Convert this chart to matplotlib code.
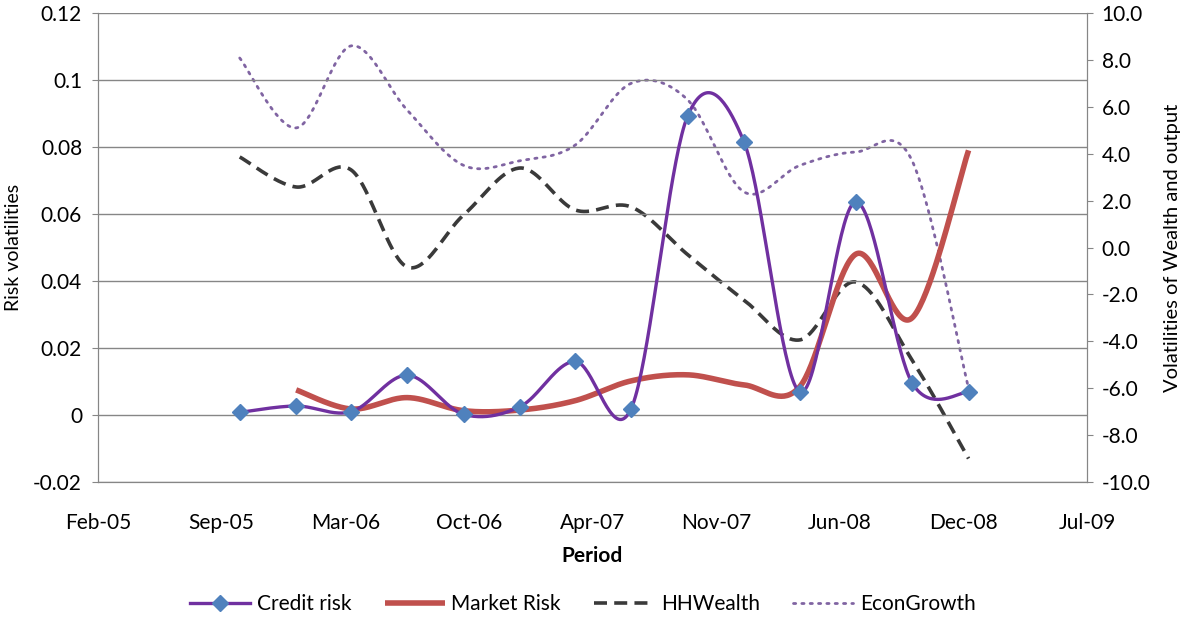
import numpy as np
import matplotlib
matplotlib.use("Agg")
import matplotlib.pyplot as plt
import matplotlib.dates as mdates
from matplotlib.ticker import FixedLocator, FuncFormatter
from matplotlib.lines import Line2D

# ---------------- data ----------------
dates = ["2005-09-30", "2005-12-31", "2006-03-31", "2006-06-30", "2006-09-30",
         "2006-12-31", "2007-03-31", "2007-06-30", "2007-09-30", "2007-12-31",
         "2008-03-31", "2008-06-30", "2008-09-30", "2008-12-31"]
credit_risk = [0.0008, 0.0027, 0.0010, 0.0119, 0.0002, 0.0025, 0.0160, 0.0019,
               0.0892, 0.0815, 0.0069, 0.0636, 0.0096, 0.0068]
market_risk = [np.nan, 0.0075, 0.0018, 0.0052, 0.0013, 0.0015, 0.0043, 0.0102,
               0.0120, 0.0090, 0.0085, 0.0480, 0.0290, 0.0790]
hh_wealth = [3.86, 2.58, 3.30, -0.83, 1.39, 3.39, 1.60, 1.73,
             -0.30, -2.24, -3.94, -1.47, -4.80, -9.00]
econ_growth = [8.08, 5.10, 8.60, 5.86, 3.50, 3.70, 4.37, 7.00,
               6.30, 2.37, 3.50, 4.07, 3.70, -6.00]
x_tick_labels = ["Feb-05", "Sep-05", "Mar-06", "Oct-06", "Apr-07",
                 "Nov-07", "Jun-08", "Dec-08", "Jul-09"]
left_ticks = [-0.02, 0, 0.02, 0.04, 0.06, 0.08, 0.1, 0.12]
right_ticks = [-10, -8, -6, -4, -2, 0, 2, 4, 6, 8, 10]


def smooth(x, y, n=40):
    """Excel-like smoothed line (Catmull-Rom as cubic Bezier)."""
    x = np.asarray(x, float)
    y = np.asarray(y, float)
    m = ~np.isnan(y)
    pts = np.column_stack([x[m], y[m]])
    out = []
    t = np.linspace(0, 1, n)[:, None]
    for i in range(len(pts) - 1):
        p0 = pts[i - 1] if i > 0 else pts[i]
        p1 = pts[i]
        p2 = pts[i + 1]
        p3 = pts[i + 2] if i + 2 < len(pts) else pts[i + 1]
        c1 = p1 + (p2 - p0) / 6.0
        c2 = p2 - (p3 - p1) / 6.0
        b = ((1 - t) ** 3) * p1 + 3 * ((1 - t) ** 2) * t * c1 + 3 * (1 - t) * t ** 2 * c2 + t ** 3 * p2
        out.append(b if i == 0 else b[1:])
    arr = np.vstack(out)
    return arr[:, 0], arr[:, 1]


plt.rcParams['font.family'] = ['Lato', 'DejaVu Sans']
FS = 15

xd = mdates.date2num(np.array(dates, dtype="datetime64[D]"))

fig = plt.figure(figsize=(11.82, 6.18), dpi=100)
ax = fig.add_axes([0.0829, 0.22, 0.8367, 0.759])
ax2 = ax.twinx()

grid_col = "#868686"
# left axis
ax.set_ylim(-0.02, 0.12)
ax.yaxis.set_major_locator(FixedLocator(left_ticks))
ax.yaxis.set_major_formatter(FuncFormatter(lambda v, p: f"{round(v, 4):g}"))
ax.grid(axis="y", color=grid_col, linewidth=1.0)
ax.set_axisbelow(True)

# x axis
x0 = mdates.date2num(np.datetime64("2005-02-11"))
x1 = mdates.date2num(np.datetime64("2009-07-12"))
ax.set_xlim(x0, x1)
ax.set_xticks(np.linspace(x0, x1, len(x_tick_labels)))
ax.set_xticklabels(x_tick_labels)
ax.tick_params(axis="x", length=0, pad=22, labelsize=FS)
ax.tick_params(axis="y", length=4.5, color=grid_col, labelsize=FS, pad=7)

for s in ["top"]:
    ax.spines[s].set_visible(False)
    ax2.spines[s].set_visible(False)
for s in ["left", "bottom", "right"]:
    ax.spines[s].set_color(grid_col)
    ax2.spines[s].set_color(grid_col)

# right axis
ax2.set_ylim(-10, 10)
ax2.yaxis.set_major_locator(FixedLocator(right_ticks))
ax2.yaxis.set_major_formatter(FuncFormatter(lambda v, p: f"{v:.1f}"))
ax2.tick_params(axis="y", length=4.5, color=grid_col, labelsize=FS, pad=6)

# series
sx, sy = smooth(xd, hh_wealth)
l3, = ax2.plot(sx, sy, color="#3a3a3a", linewidth=2.6, dashes=(3.6, 2.0), label="HHWealth")
sx, sy = smooth(xd, econ_growth)
l4, = ax2.plot(sx, sy, color="#8064A2", linewidth=2.0, linestyle=(0, (0.8, 2.2)),
               dash_capstyle="round", label="EconGrowth")

sx, sy = smooth(xd, market_risk)
l2, = ax.plot(sx, sy, color="#C0504D", linewidth=4.0, solid_capstyle="butt", label="Market Risk", zorder=3)
sx, sy = smooth(xd, credit_risk)
ax.plot(sx, sy, color="#7030A0", linewidth=2.4, zorder=4)
ax.plot(xd, credit_risk, linestyle="none", marker="D", markersize=8,
        color="#4F81BD", markeredgecolor="#4F81BD", zorder=5)
ax.set_zorder(ax2.get_zorder() + 1)
ax.patch.set_visible(False)

l1 = Line2D([], [], color="#7030A0", linewidth=2.4, marker="D", markersize=8,
            markerfacecolor="#4F81BD", markeredgecolor="#4F81BD", label="Credit risk")

ax.set_xlabel("Period", fontsize=FS, fontweight="bold", labelpad=10)
ax.set_ylabel("Risk volatilities", fontsize=14, labelpad=8)
ax2.set_ylabel("Volatilities of Wealth and output", fontsize=14.5, labelpad=10)

fig.legend(handles=[l1, l2, l3, l4], loc="center", bbox_to_anchor=(0.493, 0.022),
           ncol=4, frameon=False, fontsize=FS, handlelength=2.9, columnspacing=1.6,
           handletextpad=0.3)

fig.savefig("out.png", dpi=100)
